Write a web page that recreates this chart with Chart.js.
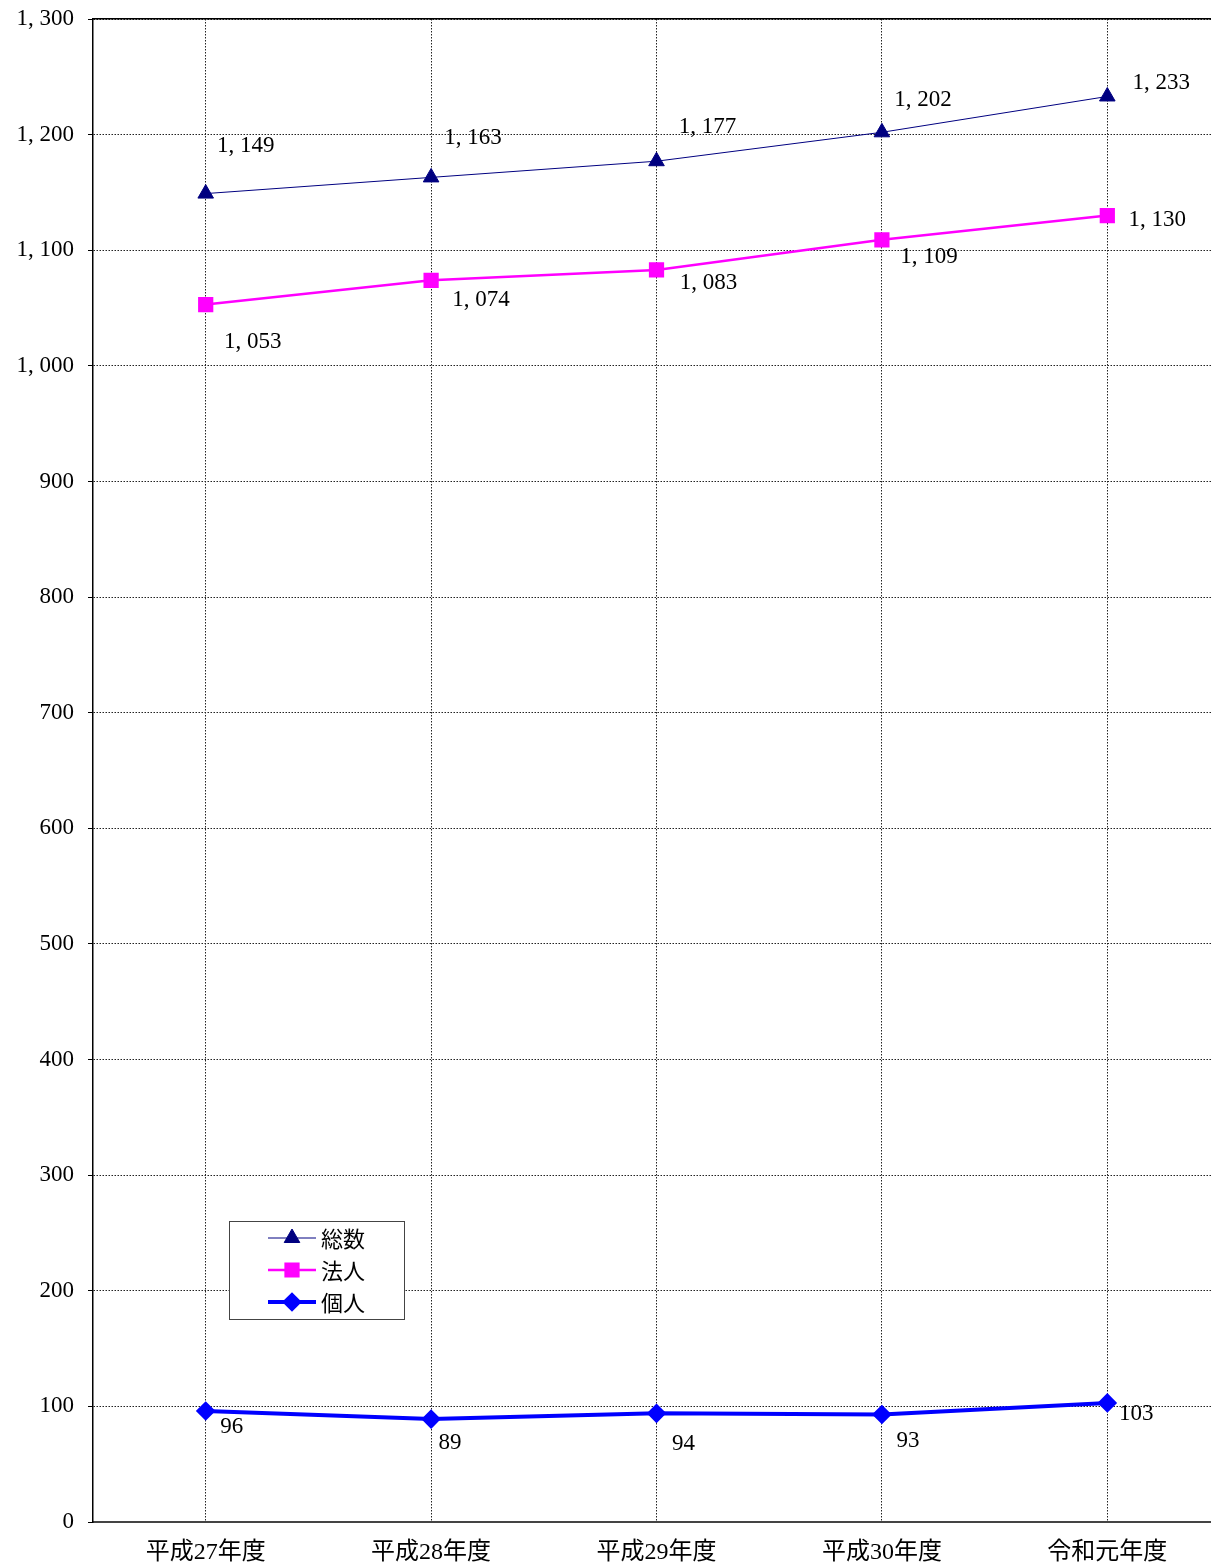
<!DOCTYPE html>
<html>
<head>
<meta charset="utf-8">
<script src="https://cdn.jsdelivr.net/npm/chart.js@4"></script>
<style>
  html, body { margin: 0; padding: 0; background: #fff; }
  canvas { display: block; }
</style>
</head>
<body>
<canvas id="line-chart" width="1211" height="1566"></canvas>
<script>
// 年度
var years = ['平成27年度', '平成28年度', '平成29年度', '平成30年度', '令和元年度'];
// 件数
var total = [1149, 1163, 1177, 1202, 1233];
var corp = [1053, 1074, 1083, 1109, 1130];
var indiv = [96, 89, 94, 93, 103];
var yTicks = [0, 100, 200, 300, 400, 500, 600, 700, 800, 900, 1000, 1100, 1200, 1300];

// label offsets from the point (px), like the original sheet
var totalLabelPos = [[40, -48], [42, -39], [51, -34], [41, -32], [54, -14]];
var corpLabelPos = [[47, 37], [50, 20], [52, 13], [47, 17], [50, 4]];
var indivLabelPos = [[26, 16], [19, 24], [27, 31], [26, 26], [29, 11]];

var serif = '"Liberation Serif", "Noto Sans CJK JP", serif';

function fmt(v) {
    return v.toLocaleString('en-US').replace(',', ', ');
}

function toPoints(arr) {
    return arr.map(function (v, i) { return { x: i, y: v }; });
}

var valueLabels = {
    id: 'valueLabels',
    afterDatasetsDraw: function (chart) {
        var ctx = chart.ctx;
        ctx.save();
        ctx.font = '23px ' + serif;
        ctx.fillStyle = '#000';
        ctx.textAlign = 'center';
        ctx.textBaseline = 'middle';
        chart.data.datasets.forEach(function (ds, di) {
            var meta = chart.getDatasetMeta(di);
            meta.data.forEach(function (pt, i) {
                var off = ds.labelPos[i];
                ctx.fillText(fmt(ds.data[i].y), pt.x + off[0], pt.y + off[1]);
            });
        });
        ctx.restore();
    }
};

var boxLegend = {
    id: 'boxLegend',
    afterDraw: function (chart) {
        var ctx = chart.ctx;
        var x0 = 229, y0 = 1221, w = 175, h = 98;
        ctx.save();
        ctx.fillStyle = '#fff';
        ctx.fillRect(x0, y0, w, h);
        ctx.strokeStyle = '#444';
        ctx.lineWidth = 1;
        ctx.strokeRect(x0 + 0.5, y0 + 0.5, w, h);
        chart.data.datasets.forEach(function (ds, i) {
            var y = y0 + 17 + i * 32;
            ctx.strokeStyle = ds.borderColor;
            ctx.lineWidth = ds.borderWidth;
            ctx.beginPath();
            ctx.moveTo(x0 + 39, y);
            ctx.lineTo(x0 + 87, y);
            ctx.stroke();
            Chart.helpers.drawPoint(ctx, {
                pointStyle: ds.pointStyle,
                radius: ds.pointRadius,
                borderWidth: 1,
                rotation: 0
            }, x0 + 63, y);
            ctx.fillStyle = ds.pointBackgroundColor;
            ctx.fill();
            ctx.fillStyle = '#000';
            ctx.font = '22px "Noto Sans CJK JP", sans-serif';
            ctx.textAlign = 'left';
            ctx.textBaseline = 'middle';
            ctx.fillText(ds.label, x0 + 92, y + 1);
        });
        ctx.restore();
    }
};

new Chart(document.getElementById('line-chart'), {
    type: 'line',
    data: {
        datasets: [
            {
                label: '総数',
                data: toPoints(total),
                labelPos: totalLabelPos,
                borderColor: '#000080',
                backgroundColor: '#000080',
                pointBackgroundColor: '#000080',
                pointBorderColor: '#000080',
                borderWidth: 1,
                pointStyle: 'triangle',
                pointRadius: 9,
                pointHoverRadius: 9
            },
            {
                label: '法人',
                data: toPoints(corp),
                labelPos: corpLabelPos,
                borderColor: '#ff00ff',
                backgroundColor: '#ff00ff',
                pointBackgroundColor: '#ff00ff',
                pointBorderColor: '#ff00ff',
                borderWidth: 2.5,
                pointStyle: 'rect',
                pointRadius: 9,
                pointHoverRadius: 9
            },
            {
                label: '個人',
                data: toPoints(indiv),
                labelPos: indivLabelPos,
                borderColor: '#0000ff',
                backgroundColor: '#0000ff',
                pointBackgroundColor: '#0000ff',
                pointBorderColor: '#0000ff',
                borderWidth: 4,
                pointStyle: 'rectRot',
                pointRadius: 7,
                pointHoverRadius: 7
            }
        ]
    },
    options: {
        responsive: false,
        animation: false,
        layout: { autoPadding: false, padding: 0 },
        plugins: {
            legend: { display: false },
            tooltip: { enabled: false }
        },
        scales: {
            x: {
                type: 'linear',
                min: -0.5,
                max: 4.46,
                afterBuildTicks: function (scale) {
                    scale.ticks = years.map(function (y, i) { return { value: i }; });
                },
                afterFit: function (scale) {
                    scale.height = 44;
                    scale.paddingLeft = 0;
                    scale.paddingRight = 0;
                },
                ticks: {
                    autoSkip: false,
                    maxRotation: 0,
                    padding: 16,
                    color: '#000',
                    font: { size: 24, family: serif },
                    callback: function (v) { return years[v]; }
                },
                grid: { color: '#222', lineWidth: 1, drawTicks: false },
                border: { color: '#444', width: 2, dash: [1.5, 1.5] }
            },
            xTop: {
                type: 'linear',
                position: 'top',
                min: -0.5,
                max: 4.46,
                afterFit: function (scale) {
                    scale.height = 19;
                    scale.paddingLeft = 0;
                    scale.paddingRight = 0;
                },
                ticks: { display: false },
                grid: { display: false },
                border: { color: '#000', width: 1.5 }
            },
            y: {
                min: 0,
                max: 1300,
                afterBuildTicks: function (scale) {
                    scale.ticks = yTicks.map(function (v) { return { value: v }; });
                },
                afterFit: function (scale) {
                    scale.width = 93;
                    scale.paddingTop = 0;
                    scale.paddingBottom = 0;
                },
                ticks: {
                    padding: 14,
                    color: '#000',
                    font: { size: 23, family: serif },
                    callback: function (v) { return fmt(v); }
                },
                grid: { color: '#222', lineWidth: 1, tickLength: 5, tickColor: '#000' },
                border: { color: '#000', width: 1.5, dash: [1.5, 1.5] }
            }
        }
    },
    plugins: [valueLabels, boxLegend]
});
</script>
</body>
</html>
